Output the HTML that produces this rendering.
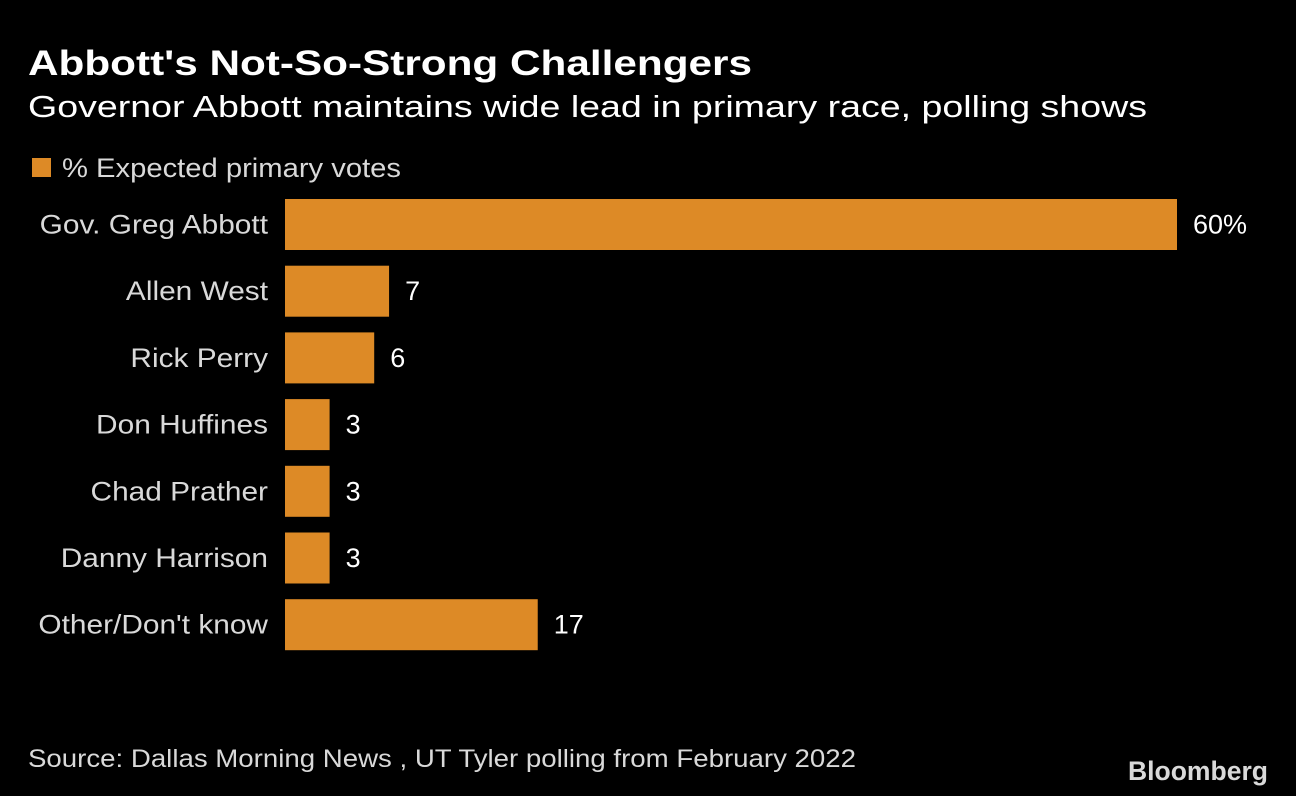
<!DOCTYPE html>
<html><head><meta charset="utf-8">
<style>
html,body{margin:0;padding:0;background:#000;}
svg{display:block;font-family:"Liberation Sans","DejaVu Sans",sans-serif;}
</style></head>
<body>
<svg id="chart" width="1296" height="796" viewBox="0 0 1296 796">
<rect width="1296" height="796" fill="#000"/>
<text x="28" y="75" font-size="35" font-weight="bold" fill="#fff" textLength="724" lengthAdjust="spacingAndGlyphs">Abbott's Not-So-Strong Challengers</text>
<text x="28" y="117" font-size="31" fill="#fff" textLength="1119" lengthAdjust="spacingAndGlyphs">Governor Abbott maintains wide lead in primary race, polling shows</text>
<rect x="32" y="158" width="19" height="19" fill="#dd8a26"/>
<text x="62" y="177" font-size="27" fill="#d9d9d9" textLength="339" lengthAdjust="spacingAndGlyphs">% Expected primary votes</text>
<g id="bars"></g>
<text x="28" y="767" font-size="25" fill="#d9d9d9" textLength="828" lengthAdjust="spacingAndGlyphs">Source: Dallas Morning News , UT Tyler polling from February 2022</text>
<text x="1268" y="780" font-size="27" font-weight="bold" fill="#d9d9d9" text-anchor="end" textLength="140" lengthAdjust="spacingAndGlyphs">Bloomberg</text>
</svg>
<script>
const categories = ["Gov. Greg Abbott","Allen West","Rick Perry","Don Huffines","Chad Prather","Danny Harrison","Other/Don't know"];
const values = [60,7,6,3,3,3,17];
const valueLabels = ["60%","7","6","3","3","3","17"];

const NS = "http://www.w3.org/2000/svg";
const g = document.getElementById("bars");
const x0 = 285, xScale = v => x0 + v * (892/60);
const yBand = i => 199 + i * 66.7;
const bh = 51;
categories.forEach((c,i)=>{
  const y = yBand(i);
  const r = document.createElementNS(NS,"rect");
  r.setAttribute("x", x0); r.setAttribute("y", y);
  r.setAttribute("width", xScale(values[i]) - x0); r.setAttribute("height", bh);
  r.setAttribute("fill", "#dd8a26");
  
  
  g.appendChild(r);
  const t = document.createElementNS(NS,"text");
  t.setAttribute("x", 268); t.setAttribute("y", y + bh/2 + 9);
  t.setAttribute("font-size", "27"); t.setAttribute("fill", "#d9d9d9");
  t.setAttribute("text-anchor", "end");
  t.textContent = c;
  
  
  g.appendChild(t);
  t.setAttribute("textLength", t.getComputedTextLength() * 1.105);
  t.setAttribute("lengthAdjust", "spacingAndGlyphs");
  const v = document.createElementNS(NS,"text");
  v.setAttribute("x", xScale(values[i]) + 16); v.setAttribute("y", y + bh/2 + 9);
  v.setAttribute("font-size", "27"); v.setAttribute("fill", "#fff");
  v.textContent = valueLabels[i];
  
  
  g.appendChild(v);
});
</script>
</body></html>
